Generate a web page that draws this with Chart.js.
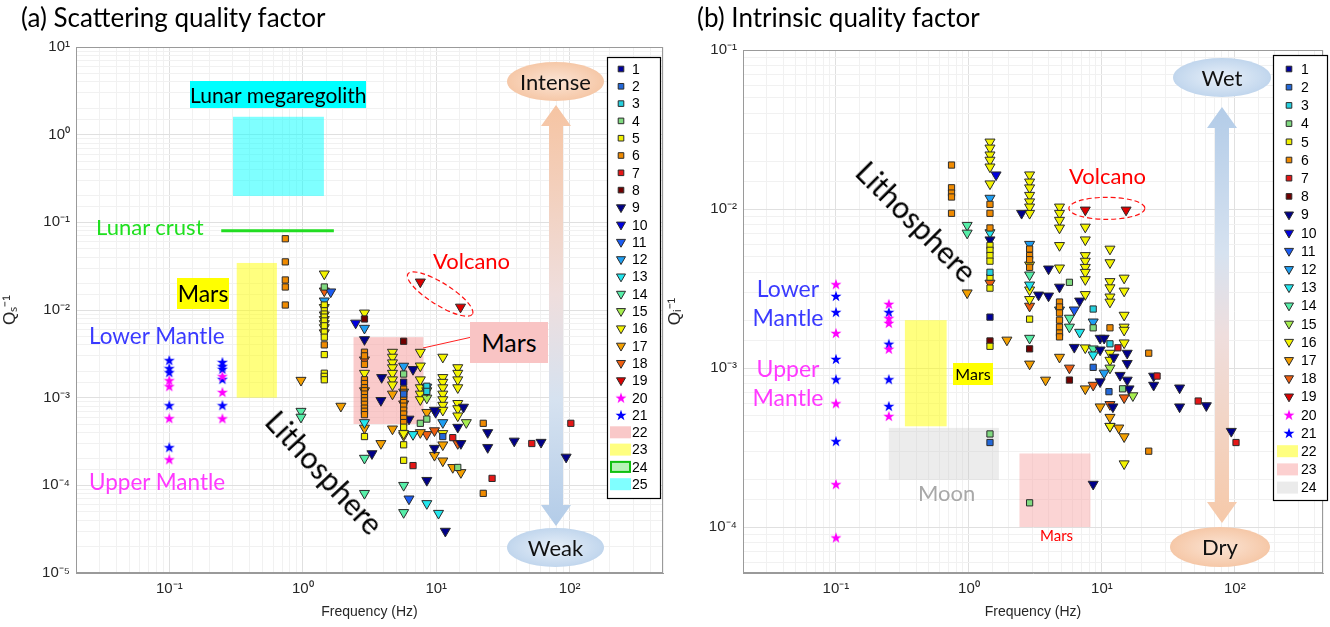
<!DOCTYPE html>
<html>
<head>
<meta charset="utf-8">
<script src="https://cdn.jsdelivr.net/npm/chart.js@4.4.0/dist/chart.umd.min.js"></script>
<style>
body{margin:0;width:1330px;height:627px;background:#fff;overflow:hidden;position:relative;font-family:Lato,"Open Sans",sans-serif}
canvas{position:absolute;top:0}
.t{position:absolute;white-space:nowrap;line-height:1}
.box{position:absolute;text-align:center;color:#000;white-space:nowrap}
.ell{position:absolute;border-radius:50%;text-align:center;color:#111;font-size:22px}
.rot{position:absolute;white-space:nowrap;line-height:1;font-size:30px;color:#000}
</style>
</head>
<body>
<canvas id="cA" width="670" height="627" style="left:0"></canvas>
<canvas id="cB" width="665" height="627" style="left:665px"></canvas>

<!-- panel (a) texts -->
<div class="t" style="left:21px;top:4px;font-size:26px">(a) Scattering quality factor</div>
<div class="box" style="left:190px;top:81px;width:176px;height:27px;line-height:27px;font-size:21px;background:#00ffff">Lunar megaregolith</div>
<div class="t" style="left:96px;top:216px;font-size:22px;color:#1fe01f">Lunar crust</div>
<div class="box" style="left:177px;top:278px;width:52px;height:31px;line-height:31px;font-size:23px;background:#ffff00">Mars</div>
<div class="t" style="left:89px;top:325px;font-size:22.5px;color:#3a3aff">Lower Mantle</div>
<div class="t" style="left:89px;top:471px;font-size:22.5px;color:#ff3aff">Upper Mantle</div>
<div class="t" style="left:433px;top:250px;font-size:22px;color:#ff0000">Volcano</div>
<div class="box" style="left:470px;top:322px;width:78px;height:41px;line-height:41px;font-size:25px;background:#f9c4c4">Mars</div>
<div class="rot" style="left:325px;top:472px;transform:translate(-50%,-50%) rotate(47deg)">Lithosphere</div>
<div class="ell" style="left:507px;top:62px;width:97px;height:39px;line-height:39px;background:radial-gradient(ellipse at center,#fbe4d4 0%,#f6caab 65%,#f1b993 100%)">Intense</div>
<div class="ell" style="left:507px;top:528px;width:97px;height:39px;line-height:39px;background:radial-gradient(ellipse at center,#e8f0f9 0%,#c4d8ee 65%,#a9c5e4 100%)">Weak</div>

<!-- panel (b) texts -->
<div class="t" style="left:697px;top:4px;font-size:26px">(b) Intrinsic quality factor</div>
<div class="rot" style="left:917px;top:221px;transform:translate(-50%,-50%) rotate(45deg)">Lithosphere</div>
<div class="t" style="left:1069px;top:165px;font-size:22px;color:#ff0000">Volcano</div>
<div class="box" style="left:748px;top:274px;width:80px;line-height:29px;font-size:23px;color:#3a3aff">Lower<br>Mantle</div>
<div class="box" style="left:748px;top:354px;width:80px;line-height:29px;font-size:23px;color:#ff3aff">Upper<br>Mantle</div>
<div class="box" style="left:953px;top:363px;width:40px;height:22px;line-height:22px;font-size:16px;background:#ffff00">Mars</div>
<div class="t" style="left:918px;top:482px;font-size:22px;color:#a8a8a8">Moon</div>
<div class="t" style="left:1040px;top:528px;font-size:15px;color:#ff0000">Mars</div>
<div class="ell" style="left:1173px;top:58px;width:98px;height:39px;line-height:39px;background:radial-gradient(ellipse at center,#e8f0f9 0%,#c4d8ee 65%,#a9c5e4 100%)">Wet</div>
<div class="ell" style="left:1170px;top:527px;width:100px;height:40px;line-height:40px;background:radial-gradient(ellipse at center,#fbe4d4 0%,#f6caab 65%,#f1b993 100%)">Dry</div>

<script>
// ---- (a) scattering Q^-1, series 1..21 : [frequency Hz, Qs^-1]
const qs1 = [[5.7, 0.0015]];
const qs2 = [[5.7, 0.0011], [11.2, 0.00036]];
const qs3 = [[8.5, 0.00135], [8.5, 0.00118]];
const qs4 = [[1.45, 0.0183], [5.7, 0.00186], [8.5, 0.00057], [14.5, 0.00016], [7.6, 0.00051]];
const qs5 = [[1.45, 0.0114], [1.45, 0.0098], [1.45, 0.009], [1.45, 0.0083], [1.45, 0.0075], [1.45, 0.0066],
  [1.45, 0.0056], [1.45, 0.0049], [1.45, 0.0031], [1.45, 0.0019], [1.45, 0.00175], [1.45, 0.0016],
  [2.9, 0.00036], [5.7, 0.00046], [5.7, 0.00029], [5.7, 0.000193]];
const qs6 = [[0.74, 0.065], [0.74, 0.0354], [0.74, 0.022], [0.74, 0.0183], [0.74, 0.0114], [1.45, 0.004],
  [2.9, 0.0033], [2.9, 0.003], [2.9, 0.0024], [2.9, 0.0016], [2.9, 0.00145], [2.9, 0.0013], [2.9, 0.0012],
  [2.9, 0.0011], [2.9, 0.001], [2.9, 0.00092], [2.9, 0.00084], [2.9, 0.00076], [2.9, 0.0007], [2.9, 0.00064],
  [5.7, 0.00125], [5.7, 0.00115], [5.7, 0.00105], [5.7, 0.00096], [5.7, 0.00088], [5.7, 0.0008],
  [5.7, 0.00072], [5.7, 0.00065], [5.7, 0.00058], [5.7, 0.00052], [22.5, 0.00051], [22.5, 0.000081]];
const qs7 = [[13.3, 0.00035], [6.7, 0.000168], [26.2, 0.00012], [52, 0.0003], [102, 0.00051]];
const qs8 = [[2.9, 0.0079], [5.7, 0.0044]];
const qs9 = [[2.9, 0.0046], [3.9, 0.0017], [3.85, 0.00093], [6.7, 0.0021], [9.7, 0.00072], [16, 0.00078],
  [15.3, 0.0003], [24.3, 0.0004], [24.3, 0.00027], [38.4, 0.00032], [61, 0.00031], [94, 0.00021],
  [8.5, 0.000114], [11.7, 0.00003], [3.3, 0.00023], [9.7, 0.000265], [14.5, 0.00046], [6.25, 0.00057]];
const qs10 = [[2.49, 0.0071], [9.9, 0.00068]];
const qs11 = [[1.62, 0.0161], [6.25, 0.00007]];
const qs12 = [[1.45, 0.0127], [2.9, 0.0062], [5.7, 0.00229], [8.5, 0.00132], [11.2, 0.00052]];
const qs13 = [[2.9, 0.00052], [8.5, 0.000062], [10.4, 0.000048], [6.7, 0.00038]];
const qs14 = [[0.97, 0.0007], [0.97, 0.0006], [2.9, 0.000204], [2.9, 0.000081], [5.7, 0.0001],
  [5.7, 0.000049], [5.7, 0.00116]];
const qs15 = [[16.8, 0.00052], [8.5, 0.00099], [8.5, 0.0012]];
const qs16 = [[1.45, 0.0258], [1.45, 0.0107], [1.45, 0.0088], [1.45, 0.0078], [1.45, 0.007], [1.45, 0.0063],
  [2.9, 0.00925], [2.9, 0.0019], [4.7, 0.0033], [4.7, 0.0029], [4.7, 0.0025], [4.7, 0.0022], [4.7, 0.0019],
  [4.7, 0.0016], [4.7, 0.0014], [7.6, 0.0033], [7.6, 0.0023], [7.6, 0.0016], [7.6, 0.0013], [7.6, 0.0011],
  [7.6, 0.00095], [11.2, 0.0029], [11.2, 0.0017], [11.2, 0.0015], [11.2, 0.0013], [11.2, 0.0011],
  [11.2, 0.00095], [11.2, 0.00082], [11.2, 0.00072], [11.2, 0.00039], [14.5, 0.0022], [14.5, 0.0019],
  [14.5, 0.0016], [14.5, 0.0013], [14.5, 0.00086], [14.5, 0.00075], [14.5, 0.00062], [5.7, 0.00039]];
const qs17 = [[0.97, 0.00158], [1.93, 0.0008], [2.9, 0.00045], [3.85, 0.0003], [4.7, 0.0011], [4.7, 0.00044],
  [5.7, 0.00037], [7.6, 0.0004], [9.7, 0.00022], [11.2, 0.00019], [13.3, 0.00016], [15.3, 0.00014],
  [11.2, 0.00029], [8.5, 0.00068], [2.9, 0.0012], [1.45, 0.0055]];
const qs18 = [[1.45, 0.0165], [2.9, 0.0027], [8.5, 0.00038], [14.5, 0.0003], [5.7, 0.00085], [9.7, 0.00042]];
const qs19 = [[7.6, 0.0209], [15.2, 0.0108]];
const qs20 = [[0.1, 0.00158], [0.1, 0.00135], [0.1, 0.000583], [0.1, 0.000198], [0.25, 0.00176], [0.25, 0.00116], [0.25, 0.00058]];
const qs21 = [[0.1, 0.00268], [0.1, 0.00217], [0.1, 0.00195], [0.1, 0.00082], [0.1, 0.000272],
  [0.25, 0.00255], [0.25, 0.00229], [0.25, 0.00213], [0.25, 0.00163], [0.25, 0.00082]];
// areas (a): [fmin, fmax, qmin, qmax]
const marsPinkA = [2.4, 8, 0.0005, 0.0049];
const marsYellowA = [0.32, 0.64, 0.001, 0.0344];
const lunarCrust = [0.245, 1.71, 0.08];
const megaregolith = [0.3, 1.44, 0.2, 1.6];

// ---- (b) intrinsic Q^-1, series 1..21
const qi1 = [[1.44, 0.00209]];
const qi2 = [[1.44, 0.00034], [8.6, 0.00101], [11.3, 0.00071]];
const qi3 = [[1.44, 0.004], [8.6, 0.00235], [11.5, 0.00142]];
const qi4 = [[1.44, 0.000385], [2.86, 0.000142], [5.7, 0.00346], [8.6, 0.00179], [14.3, 0.00074]];
const qi5 = [[1.44, 0.0059], [1.44, 0.0055], [1.44, 0.0051], [1.44, 0.0047], [1.44, 0.00373], [1.44, 0.00318],
  [1.44, 0.00137], [2.86, 0.00203]];
const qi6 = [[0.74, 0.0189], [0.74, 0.0136], [0.74, 0.0126], [0.74, 0.0119], [0.74, 0.0094],
  [1.44, 0.0107], [1.44, 0.0094], [1.44, 0.0076], [2.86, 0.0056], [2.86, 0.0051], [2.86, 0.0048], [2.86, 0.0043],
  [4.8, 0.0026], [4.8, 0.00242], [4.8, 0.00222], [4.8, 0.002], [4.8, 0.00181], [4.8, 0.00166], [4.8, 0.00157],
  [11.5, 0.00179], [22.5, 0.00124], [22.5, 0.0003]];
const qi7 = [[13.2, 0.00134], [26, 0.00089], [53, 0.00062], [102, 0.00034]];
const qi8 = [[1.44, 0.00148], [2.86, 0.00132], [5.7, 0.00084]];
const qi9 = [[1.44, 0.0064], [2.49, 0.0094], [3.97, 0.0042], [3.34, 0.00288], [3.97, 0.00284], [6.2, 0.00135],
  [4.8, 0.00323], [6.8, 0.00264], [9.7, 0.00154], [9.7, 0.0013], [9.7, 0.00082], [10.4, 0.00154],
  [12.3, 0.00117], [12.1, 0.00057], [15.5, 0.00124], [15.5, 0.00107], [15.5, 0.00084], [13.7, 0.0009],
  [16, 0.00074], [24.5, 0.00089], [24.5, 0.00078], [38.4, 0.00075], [38.4, 0.00057], [61, 0.00058],
  [94, 0.0004], [8.6, 0.000186]];
const qi10 = [[1.6, 0.0164]];
const qi11 = [[6.2, 0.00232]];
const qi12 = [[1.44, 0.0117], [2.86, 0.006], [4.8, 0.00232], [8.6, 0.00195], [10.4, 0.00093]];
const qi13 = [[1.44, 0.0071], [2.86, 0.00333], [6.8, 0.00168], [8.6, 0.00121]];
const qi14 = [[0.97, 0.0079], [0.97, 0.00706], [2.86, 0.00385], [2.86, 0.00154], [5.7, 0.00206], [5.7, 0.00181], [8.6, 0.00132]];
const qi15 = [[11.5, 0.001], [17.1, 0.00067]];
const qi16 = [[1.44, 0.0264], [1.44, 0.0242], [1.44, 0.0219], [1.44, 0.0203], [1.44, 0.0184], [1.44, 0.0144],
  [2.86, 0.0164], [2.86, 0.0148], [2.86, 0.0136], [2.86, 0.0122], [2.86, 0.0111], [2.86, 0.0103], [2.86, 0.0094],
  [2.86, 0.00445], [2.86, 0.0031], [2.86, 0.0027], [4.8, 0.0103], [4.8, 0.0094], [4.8, 0.0085], [4.8, 0.0076],
  [4.8, 0.0059], [4.8, 0.00426], [7.5, 0.0077], [7.5, 0.0064], [7.5, 0.0051], [7.5, 0.0047], [7.5, 0.0043],
  [7.5, 0.004], [7.5, 0.0036], [7.5, 0.0029], [7.5, 0.00134], [11.5, 0.0056], [11.5, 0.0046], [11.5, 0.0035],
  [11.5, 0.0032], [11.5, 0.0028], [11.5, 0.0026], [11.5, 0.00124], [11.5, 0.00112], [11.5, 0.00043],
  [14.7, 0.00368], [14.7, 0.00305], [14.7, 0.00215], [14.7, 0.00181], [14.7, 0.00173], [14.7, 0.00144], [14.7, 0.00025]];
const qi17 = [[0.97, 0.00297], [1.93, 0.0015], [2.86, 0.00106], [3.77, 0.00084], [4.8, 0.00117], [7.5, 0.00074],
  [9.7, 0.00057], [11.5, 0.00049], [11.5, 0.00043], [13.4, 0.00042], [14.7, 0.00037]];
const qi18 = [[1.44, 0.00342], [2.86, 0.00245], [5.7, 0.001], [8.6, 0.00078], [11.5, 0.00059], [14.7, 0.00065]];
const qi19 = [[7.5, 0.00986], [15.2, 0.00986]];
const qi20 = [[0.1, 0.00337], [0.1, 0.00166], [0.1, 0.0006], [0.1, 0.000186], [0.1, 0.000086],
  [0.25, 0.00253], [0.25, 0.00206], [0.25, 0.00192], [0.25, 0.00132], [0.25, 0.000499]];
const qi21 = [[0.1, 0.00284], [0.1, 0.00225], [0.1, 0.00114], [0.1, 0.00085], [0.1, 0.000347],
  [0.25, 0.00225], [0.25, 0.00142], [0.25, 0.00085], [0.25, 0.000577]];
// areas (b)
const marsYellowB = [0.33, 0.68, 0.00043, 0.002];
const marsPinkB = [2.4, 8.2, 0.0001, 0.00029];
const moonGray = [0.25, 1.68, 0.000198, 0.00042];

// axis limits
const freqMin = 0.02;
const freqMaxA = 500, freqMaxB = 460;
const qsMin = 1e-5, qsMax = 10;
const qiMin = 5.14e-5, qiMax = 0.1;

// ---- styles
const sqColors = ['#00009c', '#2368d8', '#25d0de', '#80da80', '#f0f000', '#ef8a00', '#e51616', '#700000'];
const triColors = ['#000088', '#0000e0', '#1c5cf2', '#1e9ef2', '#22e6ee', '#56eea8', '#a6ee4e',
  '#f4f400', '#f4a000', '#ee5e10', '#dd0000'];

function starImg(color) {
  const c = document.createElement('canvas');
  c.width = 12; c.height = 12;
  const g = c.getContext('2d');
  g.fillStyle = color;
  g.beginPath();
  for (let i = 0; i < 10; i++) {
    const r = i % 2 ? 2.3 : 5.8;
    const a = -Math.PI / 2 + i * Math.PI / 5;
    g.lineTo(6 + r * Math.cos(a), 6.5 + r * Math.sin(a));
  }
  g.closePath(); g.fill();
  return c;
}
const starM = starImg('#ff00ff'), starB = starImg('#0000ff');

function series(arrs) {
  return arrs.map((a, i) => {
    const n = i + 1;
    let st;
    if (n <= 8) st = { pointStyle: 'rect', pointRadius: 4.4, pointRotation: 0, backgroundColor: sqColors[i], borderColor: '#2b2b2b', borderWidth: 1 };
    else if (n <= 19) st = { pointStyle: 'triangle', pointRadius: 5.8, pointRotation: 180, backgroundColor: triColors[i - 8], borderColor: '#2b2b2b', borderWidth: 1 };
    else st = { pointStyle: n === 20 ? starM : starB, pointRadius: 6, pointRotation: 0, backgroundColor: n === 20 ? '#ff00ff' : '#0000ff', borderColor: 'transparent', borderWidth: 0 };
    return Object.assign({ label: String(n), data: a.map(p => ({ x: p[0], y: p[1] })) }, st);
  });
}

function sup(n) {
  const m = { '-': '\u207B', '0': '\u2070', '1': '\u00B9', '2': '\u00B2', '3': '\u00B3', '4': '\u2074', '5': '\u2075', '6': '\u2076', '7': '\u2077', '8': '\u2078', '9': '\u2079' };
  return String(n).split('').map(c => m[c]).join('');
}
function isDecade(v) { const e = Math.log10(v); return Math.abs(e - Math.round(e)) < 1e-6; }
function decLabel(v) { return isDecade(v) ? '10' + sup(Math.round(Math.log10(v))) : ''; }

Chart.defaults.font.family = '"Liberation Sans", Arial, sans-serif';
Chart.defaults.color = '#262626';

// areas drawn under the markers, through the scales
const areaPlug = {
  id: 'areas',
  beforeDatasetsDraw(chart, args, o) {
    const { ctx, chartArea: ca, scales: { x, y } } = chart;
    ctx.save();
    ctx.beginPath(); ctx.rect(ca.left, ca.top, ca.width, ca.height); ctx.clip();
    o.items.forEach(b => {
      const x1 = x.getPixelForValue(b.r[0]), x2 = x.getPixelForValue(b.r[1]);
      if (b.r.length === 3) {
        const yy = y.getPixelForValue(b.r[2]);
        ctx.strokeStyle = b.line; ctx.lineWidth = 3;
        ctx.beginPath(); ctx.moveTo(x1, yy); ctx.lineTo(x2, yy); ctx.stroke();
      } else {
        const y1 = y.getPixelForValue(b.r[2]), y2 = y.getPixelForValue(b.r[3]);
        ctx.fillStyle = b.fill; ctx.fillRect(x1, y2, x2 - x1, y1 - y2);
      }
    });
    // double arrow
    const a = o.arrow;
    const g = ctx.createLinearGradient(0, a.top, 0, a.bot);
    a.stops.forEach(s => g.addColorStop(s[0], s[1]));
    ctx.fillStyle = g;
    ctx.beginPath();
    ctx.moveTo(a.cx, a.top);
    ctx.lineTo(a.cx + 15, a.top + 21); ctx.lineTo(a.cx + 7, a.top + 21);
    ctx.lineTo(a.cx + 7, a.bot - 21); ctx.lineTo(a.cx + 15, a.bot - 21);
    ctx.lineTo(a.cx, a.bot);
    ctx.lineTo(a.cx - 15, a.bot - 21); ctx.lineTo(a.cx - 7, a.bot - 21);
    ctx.lineTo(a.cx - 7, a.top + 21); ctx.lineTo(a.cx - 15, a.top + 21);
    ctx.closePath(); ctx.fill();
    ctx.restore();
  },
  afterDatasetsDraw(chart, args, o) {
    const { ctx, chartArea: ca, scales: { x, y } } = chart;
    ctx.save();
    ctx.strokeStyle = '#9a9a9a'; ctx.lineWidth = 1;
    ctx.strokeRect(ca.left + 0.5, ca.top + 0.5, ca.width - 1, ca.height - 1);
    const e = o.volcano;
    ctx.strokeStyle = '#ff1010'; ctx.lineWidth = 1.2; ctx.setLineDash([5, 3]);
    ctx.beginPath();
    ctx.ellipse(x.getPixelForValue(e.f), y.getPixelForValue(e.q), e.rx, e.ry, e.rot * Math.PI / 180, 0, 2 * Math.PI);
    ctx.stroke();
    ctx.setLineDash([]);
    if (o.link) {
      ctx.strokeStyle = '#ff2020'; ctx.lineWidth = 1;
      ctx.beginPath(); ctx.moveTo(o.link[0], o.link[1]); ctx.lineTo(o.link[2], o.link[3]); ctx.stroke();
    }
    ctx.restore();
  }
};

// legend box inside the axes
const legendPlug = {
  id: 'boxLegend',
  afterDraw(chart, args, o) {
    const ctx = chart.ctx;
    ctx.save();
    ctx.fillStyle = '#fff'; ctx.fillRect(o.x, o.y, o.w, o.h);
    ctx.strokeStyle = '#000'; ctx.lineWidth = 1.2; ctx.strokeRect(o.x + 0.5, o.y + 0.5, o.w, o.h);
    ctx.font = '14px "Liberation Sans", Arial, sans-serif';
    ctx.textBaseline = 'middle';
    let i = 0;
    chart.data.datasets.forEach(d => {
      const yy = o.y0 + i * o.dy;
      ctx.fillStyle = d.backgroundColor; ctx.strokeStyle = d.borderColor; ctx.lineWidth = 1;
      Chart.helpers.drawPoint(ctx, { pointStyle: d.pointStyle, radius: d.pointRadius * 0.9, rotation: d.pointRotation, borderWidth: d.borderWidth }, o.mx, yy);
      ctx.fillStyle = '#000'; ctx.fillText(d.label, o.tx, yy + 1);
      i++;
    });
    o.areas.forEach(b => {
      const yy = o.y0 + i * o.dy;
      ctx.fillStyle = b.fill; ctx.fillRect(o.bx, yy - 6, o.bw, 12);
      if (b.edge) { ctx.strokeStyle = b.edge; ctx.lineWidth = 2; ctx.strokeRect(o.bx + 1, yy - 5, o.bw - 2, 10); }
      ctx.fillStyle = '#000'; ctx.fillText(b.label, o.tx, yy + 1);
      i++;
    });
    ctx.restore();
  }
};

function gridColor(c) { return isDecade(c.tick.value) ? '#e0e0e0' : '#f1f1f1'; }

function makeChart(id, sets, cfg) {
  return new Chart(document.getElementById(id), {
    type: 'scatter',
    data: { datasets: series(sets) },
    plugins: [areaPlug, legendPlug],
    options: {
      responsive: false, animation: false, events: [],
      layout: { padding: cfg.pad },
      plugins: {
        legend: { display: false }, tooltip: { enabled: false },
        areas: cfg.areas, boxLegend: cfg.legend
      },
      scales: {
        x: {
          type: 'logarithmic', min: freqMin, max: cfg.xmax,
          afterFit(s) { s.height = 54; },
          grid: { color: gridColor, drawTicks: false },
          border: { color: '#9a9a9a' },
          ticks: { autoSkip: false, maxRotation: 0, padding: 7, font: { size: 15 }, callback: v => decLabel(v) },
          title: { display: true, text: 'Frequency (Hz)', font: { size: 14 }, padding: { top: 0, bottom: 6 } }
        },
        y: {
          type: 'logarithmic', min: cfg.ymin, max: cfg.ymax,
          afterFit(s) { s.width = cfg.yw; },
          grid: { color: gridColor, drawTicks: false },
          border: { color: '#9a9a9a' },
          ticks: { autoSkip: false, padding: 6, font: { size: 15 }, callback: v => decLabel(v) },
          title: { display: true, text: cfg.ytitle, font: { size: 17 }, padding: { top: 0, bottom: 0 } }
        }
      }
    }
  });
}

makeChart('cA',
  [qs1, qs2, qs3, qs4, qs5, qs6, qs7, qs8, qs9, qs10, qs11, qs12, qs13, qs14, qs15, qs16, qs17, qs18, qs19, qs20, qs21],
  {
    pad: { left: 0, top: 47, right: 5, bottom: 0 }, yw: 76, xmax: freqMaxA, ymin: qsMin, ymax: qsMax,
    ytitle: 'Q\u209B\u207B\u00B9',
    areas: {
      items: [
        { r: megaregolith, fill: 'rgba(0,255,255,0.5)' },
        { r: marsYellowA, fill: 'rgba(255,255,0,0.5)' },
        { r: marsPinkA, fill: 'rgba(245,160,160,0.55)' },
        { r: lunarCrust, line: '#22dd22' }
      ],
      arrow: { cx: 556, top: 105, bot: 526, stops: [[0, '#f6c4a2'], [0.45, '#efdedd'], [0.7, '#d6e2f0'], [1, '#b3cce8']] },
      volcano: { f: 10.7, q: 0.0152, rx: 38, ry: 11, rot: 32 },
      link: [423, 348, 472, 337]
    },
    legend: {
      x: 607, y: 57, w: 53, h: 441, y0: 69, dy: 17.3, mx: 621, tx: 632, bx: 610, bw: 21,
      areas: [
        { label: '22', fill: '#f9c8c8' },
        { label: '23', fill: '#ffff80' },
        { label: '24', fill: '#b8f2b8', edge: '#10c010' },
        { label: '25', fill: '#80ffff' }
      ]
    }
  });

makeChart('cB',
  [qi1, qi2, qi3, qi4, qi5, qi6, qi7, qi8, qi9, qi10, qi11, qi12, qi13, qi14, qi15, qi16, qi17, qi18, qi19, qi20, qi21],
  {
    pad: { left: 0, top: 50, right: 2, bottom: 0 }, yw: 78, xmax: freqMaxB, ymin: qiMin, ymax: qiMax,
    ytitle: 'Q\u1D62\u207B\u00B9',
    areas: {
      items: [
        { r: marsYellowB, fill: 'rgba(255,255,0,0.5)' },
        { r: moonGray, fill: 'rgba(200,200,200,0.35)' },
        { r: marsPinkB, fill: 'rgba(248,170,170,0.5)' }
      ],
      arrow: { cx: 557, top: 107, bot: 523, stops: [[0, '#b3cce8'], [0.35, '#d6e2f0'], [0.55, '#efdedd'], [1, '#f6c9a9']] },
      volcano: { f: 10.9, q: 0.0101, rx: 38, ry: 11, rot: 0 }
    },
    legend: {
      x: 608, y: 55, w: 54, h: 445, y0: 69, dy: 18.2, mx: 624, tx: 636, bx: 612, bw: 21,
      areas: [
        { label: '22', fill: '#ffff80' },
        { label: '23', fill: '#fcd0d0' },
        { label: '24', fill: '#ebebeb' }
      ]
    }
  });
</script>
</body>
</html>
